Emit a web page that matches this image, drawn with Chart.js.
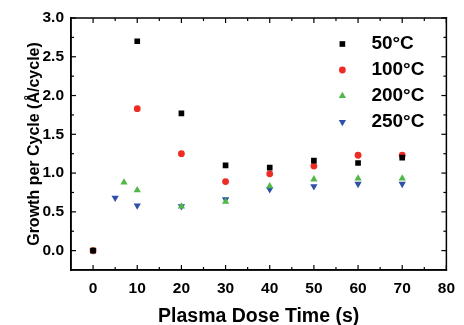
<!DOCTYPE html>
<html>
<head>
<meta charset="utf-8">
<script src="https://cdn.jsdelivr.net/npm/chart.js@4.4.0/dist/chart.umd.min.js"></script>
<style>
    html, body { margin: 0; padding: 0; background: #fff; }
</style>
</head>
<body>
<canvas id="grafico" width="464" height="325"></canvas>
<script>
// series names and values
const series = ['50°C', '100°C', '200°C', '250°C'];
const x50 = [0, 10, 20, 30, 40, 50, 60, 70];
const y50 = [0, 2.70, 1.77, 1.10, 1.07, 1.16, 1.13, 1.20];
const x100 = [0, 10, 20, 30, 40, 50, 60, 70];
const y100 = [0, 1.83, 1.25, 0.89, 0.99, 1.09, 1.23, 1.23];
const x200 = [0, 7, 10, 20, 30, 40, 50, 60, 70];
const y200 = [0, 0.88, 0.78, 0.57, 0.63, 0.83, 0.92, 0.93, 0.93];
const x250 = [0, 5, 10, 20, 30, 40, 50, 60, 70];
const y250 = [0, 0.68, 0.58, 0.57, 0.66, 0.79, 0.83, 0.86, 0.86];

const xTicks = [0, 10, 20, 30, 40, 50, 60, 70, 80];
const yTicks = [0.0, 0.5, 1.0, 1.5, 2.0, 2.5, 3.0];

const FONT = "'Liberation Sans', Arial, sans-serif";

function pts(xs, ys) {
    var out = [];
    for (var i in xs) out.push({ x: xs[i], y: ys[i] });
    return out;
}

// short line segment drawn through the library's point helper
function seg(ctx, x, y, half, rot) {
    Chart.helpers.drawPoint(ctx, { pointStyle: 'line', rotation: rot, radius: half, borderWidth: 1 }, x, y);
}

// box round the plot with inward ticks, then the legend
const extras = {
    id: 'extras',
    afterDatasetsDraw: function (chart) {
        var ctx = chart.ctx;
        var a = chart.chartArea;
        var sx = chart.scales.x, sy = chart.scales.y;
        var w = a.right - a.left, h = a.bottom - a.top;
        ctx.save();
        ctx.strokeStyle = '#000';
        ctx.lineWidth = 1.5;
        seg(ctx, a.left + w / 2, a.top, w / 2 + 0.75, 0);
        seg(ctx, a.left + w / 2, a.bottom, w / 2 + 0.75, 0);
        seg(ctx, a.left, a.top + h / 2, h / 2 + 0.75, 90);
        seg(ctx, a.right, a.top + h / 2, h / 2 + 0.75, 90);
        ctx.lineWidth = 1.2;
        for (var v = 0; v <= 80; v += 5) {
            var px = sx.getPixelForValue(v);
            var len = (v % 10 == 0) ? 5 : 3;
            seg(ctx, px, a.bottom - len / 2, len / 2, 90);
            seg(ctx, px, a.top + len / 2, len / 2, 90);
        }
        for (var k = 0; k <= 12; k++) {
            var py = sy.getPixelForValue(k * 0.25);
            var l2 = (k % 2 == 0) ? 5 : 3;
            seg(ctx, a.left + l2 / 2, py, l2 / 2, 0);
            seg(ctx, a.right - l2 / 2, py, l2 / 2, 0);
        }

        ctx.textBaseline = 'middle';
        chart.data.datasets.forEach(function (ds, i) {
            var y = a.top + 26 + i * 26;
            var x = a.right - 104;
            ctx.fillStyle = ds.backgroundColor;
            Chart.helpers.drawPoint(ctx, {
                pointStyle: ds.pointStyle,
                rotation: ds.rotation || 0,
                radius: ds.pointRadius,
                borderWidth: 0
            }, x, y);
            ctx.font = 'bold 19px ' + FONT;
            ctx.fillStyle = '#000';
            ctx.fillText(ds.label, x + 29, y);
        });
        ctx.restore();
    }
};

var chartdata = {
    datasets: [
        { label: series[0], data: pts(x50, y50), pointStyle: 'rect', pointRadius: 4, backgroundColor: '#000000', borderColor: '#000000', borderWidth: 0 },
        { label: series[1], data: pts(x100, y100), pointStyle: 'circle', pointRadius: 3.4, backgroundColor: '#ee2b24', borderColor: '#ee2b24', borderWidth: 0 },
        { label: series[2], data: pts(x200, y200), pointStyle: 'triangle', pointRadius: 4.2, backgroundColor: '#4fb848', borderColor: '#4fb848', borderWidth: 0 },
        { label: series[3], data: pts(x250, y250), pointStyle: 'triangle', rotation: 180, pointRadius: 4.2, backgroundColor: '#2f4fa8', borderColor: '#2f4fa8', borderWidth: 0 }
    ]
};

new Chart(document.getElementById('grafico'), {
    type: 'scatter',
    data: chartdata,
    plugins: [extras],
    options: {
        responsive: false,
        animation: false,
        devicePixelRatio: 1,
        layout: { padding: { top: 18, right: 6, left: 25, bottom: -3 } },
        plugins: { legend: { display: false }, tooltip: { enabled: false } },
        scales: {
            x: {
                type: 'linear',
                min: -5,
                max: 80,
                afterBuildTicks: function (scale) { scale.ticks = xTicks.map(function (v) { return { value: v }; }); },
                afterFit: function (scale) { scale.height = 58; },
                grid: { display: false, drawTicks: false },
                border: { display: true, color: '#000', width: 1.5 },
                ticks: { color: '#000', font: { family: FONT, size: 15.5, weight: 'bold' }, padding: 9, maxRotation: 0 },
                title: { display: true, text: 'Plasma Dose Time (s)', color: '#000', font: { family: FONT, size: 19.5, weight: 'bold' }, padding: { top: 2, bottom: 0 } }
            },
            y: {
                type: 'linear',
                min: -0.25,
                max: 3.0,
                afterBuildTicks: function (scale) { scale.ticks = yTicks.map(function (v) { return { value: v }; }); },
                afterFit: function (scale) { scale.width = 46; },
                grid: { display: false, drawTicks: false },
                border: { display: true, color: '#000', width: 1.5 },
                ticks: { color: '#000', font: { family: FONT, size: 15.5, weight: 'bold' }, padding: 7, callback: function (v) { return Number(v).toFixed(1); } },
                title: { display: true, text: 'Growth per Cycle (Å/cycle)', color: '#000', font: { family: FONT, size: 16, weight: 'bold' }, padding: { top: 0, bottom: 2 } }
            }
        }
    }
});
</script>
</body>
</html>
